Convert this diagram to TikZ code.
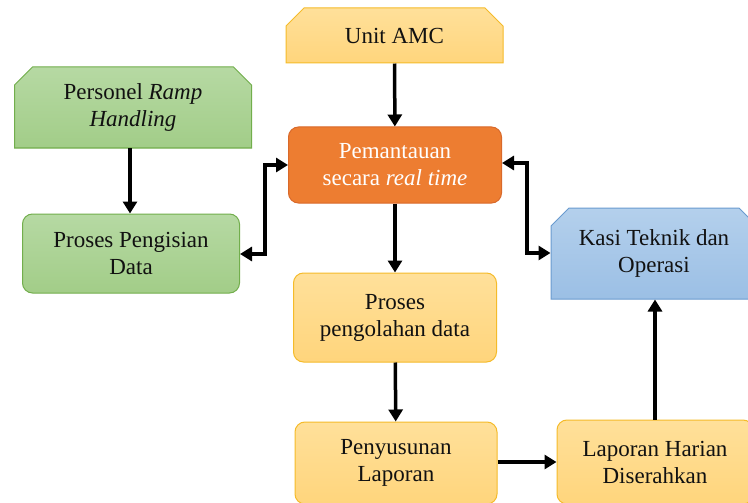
\documentclass[tikz,border=0pt]{standalone}
\usepackage{fontspec}
\setmainfont{Liberation Serif}
\newfontfamily\tnrfont{Liberation Serif}
\usetikzlibrary{shapes.misc,arrows.meta}
\definecolor{yelT}{HTML}{FFE09A}
\definecolor{yelB}{HTML}{FFD57C}
\definecolor{yelD}{HTML}{F5BB2A}
\definecolor{grnT}{HTML}{B6D9A3}
\definecolor{grnB}{HTML}{A2CD88}
\definecolor{grnD}{HTML}{72AE4C}
\definecolor{bluT}{HTML}{B4D0EC}
\definecolor{bluB}{HTML}{9BBFE5}
\definecolor{bluD}{HTML}{6A9BCF}
\definecolor{orn}{HTML}{ED7D31}
\definecolor{ornD}{HTML}{D9692A}
\definecolor{txt}{HTML}{111111}
\tikzset{
  x=1pt,y=-1pt,
  box/.style={draw,line width=1pt,align=center,inner sep=2pt,text=txt,
    font=\tnrfont\fontsize{23}{27}\selectfont},
  roundbox/.style={box,rectangle,rounded corners=10pt},
  snipbox/.style={box,chamfered rectangle,chamfered rectangle xsep=9pt,
    chamfered rectangle ysep=9pt},
  yelbox/.style={draw=yelD,top color=yelT,bottom color=yelB},
  grnbox/.style={draw=grnD,top color=grnT,bottom color=grnB},
  blubox/.style={draw=bluD,top color=bluT,bottom color=bluB},
  arr/.style={line width=3.5pt,-{Triangle[length=12pt,width=14pt]}},
  darr/.style={line width=3.5pt,{Triangle[length=12pt,width=14pt]}-{Triangle[length=12pt,width=14pt]}},
}
\begin{document}
\begin{tikzpicture}
\clip (0,0) rectangle (748,503);
\fill[white] (0,0) rectangle (748,503);
\node[snipbox,yelbox,chamfered rectangle corners={north west,north east},
  minimum width=217pt,minimum height=55pt] (amc) at (394.5,35.5) {Unit AMC};
\node[roundbox,fill=orn,draw=ornD,text=white,
  minimum width=213pt,minimum height=76pt] (pem) at (395,165) {Pemantauan\\secara \textit{real time}};
\node[snipbox,grnbox,chamfered rectangle corners={north west,north east},
  minimum width=237pt,minimum height=81pt] (per) at (133,107.5) {Personel \textit{Ramp}\\\textit{Handling}};
\node[roundbox,grnbox,minimum width=217pt,minimum height=79pt] (isi) at (131,253.5) {Proses Pengisian\\Data};
\node[snipbox,blubox,chamfered rectangle corners={north west,north east},
  minimum width=206pt,minimum height=91pt] (kasi) at (654,253.5) {Kasi Teknik dan\\Operasi};
\node[roundbox,yelbox,minimum width=203pt,minimum height=89pt] (olah) at (395,317.5) {Proses\\pengolahan data};
\node[roundbox,yelbox,minimum width=202pt,minimum height=82pt] (susun) at (396,463) {Penyusunan\\Laporan};
\node[roundbox,yelbox,minimum width=196pt,minimum height=84pt] (lap) at (655,462) {Laporan Harian\\Diserahkan};
\draw[arr] (amc) -- (pem);
\draw[arr] (per.south -| 130,0) -- (isi.north -| 130,0);
\draw[arr] (pem) -- (olah);
\draw[arr] (olah) -- (susun);
\draw[arr] (susun.east |- 0,462) -- (lap.west |- 0,462);
\draw[arr] (lap.north) -- (kasi.south -| lap.north);
\draw[darr] (pem.west |- 0,165) -| (265,254) -- (isi.east |- 0,254);
\draw[darr] (pem.east |- 0,163) -| (527,253) -- (kasi.west |- 0,253);
\end{tikzpicture}
\end{document}
